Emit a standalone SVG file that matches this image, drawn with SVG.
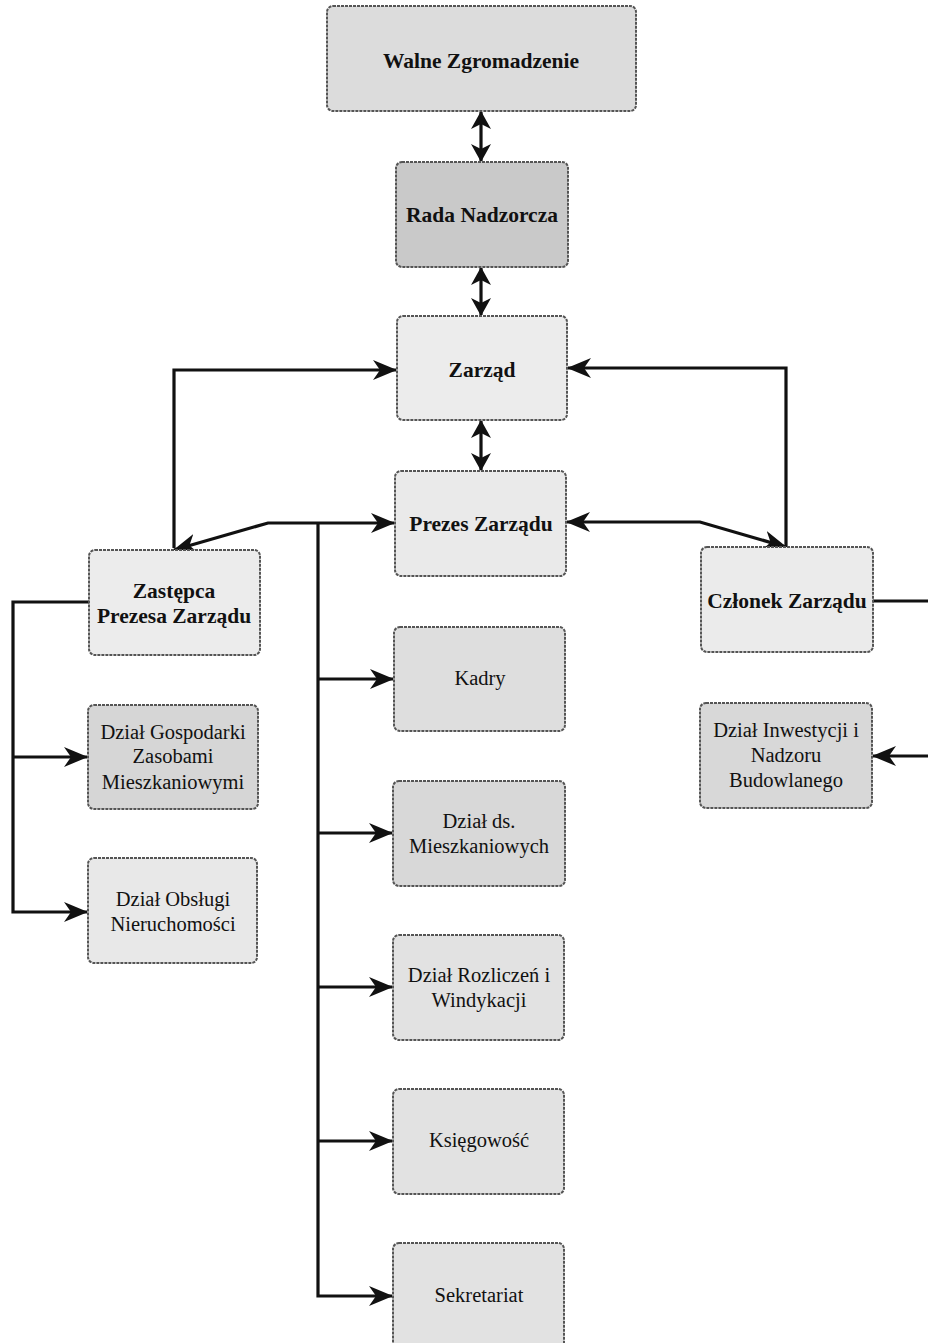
<svg xmlns="http://www.w3.org/2000/svg" width="928" height="1343" viewBox="0 0 928 1343">
<style>
.n{stroke:#555;stroke-width:2;stroke-dasharray:3 1}
.b{font-family:"Liberation Serif","Times New Roman",serif;font-weight:bold;font-size:21.5px;fill:#111;text-anchor:middle}
.r{font-family:"Liberation Serif","Times New Roman",serif;font-size:20.5px;fill:#111;text-anchor:middle}
.c{fill:none;stroke:#111;stroke-width:3.2}
</style>
<defs>
<marker id="ah" viewBox="0 0 24 20" refX="23" refY="10" markerWidth="24" markerHeight="20" markerUnits="userSpaceOnUse" orient="auto-start-reverse">
<path d="M0,0 L24,10 L0,20 L7,10 Z" fill="#111"/>
</marker>
<marker id="ds" viewBox="0 0 18 20" refX="17" refY="10" markerWidth="18" markerHeight="20" markerUnits="userSpaceOnUse" orient="auto-start-reverse">
<path d="M0,0 L18,10 L0,20 L5,10 Z" fill="#111"/>
</marker>
</defs>
<rect width="928" height="1343" fill="#fff"/>
<g id="connectors">
<path class="c" d="M481,112 V161" marker-start="url(#ds)" marker-end="url(#ds)"/>
<path class="c" d="M481,268 V315" marker-start="url(#ds)" marker-end="url(#ds)"/>
<path class="c" d="M481,421 V470" marker-start="url(#ds)" marker-end="url(#ds)"/>
<path class="c" d="M174,548 V370 H396" marker-end="url(#ah)"/>
<path class="c" d="M174,550 L268,523 H394" marker-start="url(#ah)" marker-end="url(#ah)"/>
<path class="c" d="M318,523 V1296 H392" marker-end="url(#ah)"/>
<path class="c" d="M318,679 H393" marker-end="url(#ah)"/>
<path class="c" d="M318,833 H392" marker-end="url(#ah)"/>
<path class="c" d="M318,987 H392" marker-end="url(#ah)"/>
<path class="c" d="M318,1141 H392" marker-end="url(#ah)"/>
<path class="c" d="M786,547 V368 H568" marker-end="url(#ah)"/>
<path class="c" d="M567,522 H700 L786,547" marker-start="url(#ah)" marker-end="url(#ah)"/>
<path class="c" d="M873,601 H935 V756 H873" marker-end="url(#ah)"/>
<path class="c" d="M89,602 H13 V912 H87" marker-end="url(#ah)"/>
<path class="c" d="M13,757 H87" marker-end="url(#ah)"/>
</g>
<g id="walne"><rect class="n" x="327" y="6" width="309" height="105" rx="6" fill="#dcdcdc"/><text class="b" x="481" y="68">Walne Zgromadzenie</text></g>
<g id="rada"><rect class="n" x="396" y="162" width="172" height="105" rx="6" fill="#c9c9c9"/><text class="b" x="482" y="222">Rada Nadzorcza</text></g>
<g id="zarzad"><rect class="n" x="397" y="316" width="170" height="104" rx="6" fill="#ececec"/><text class="b" x="482" y="377">Zarząd</text></g>
<g id="prezes"><rect class="n" x="395" y="471" width="171" height="105" rx="6" fill="#eaeaea"/><text class="b" x="481" y="531">Prezes Zarządu</text></g>
<g id="zastepca"><rect class="n" x="89" y="550" width="171" height="105" rx="6" fill="#ececec"/><text class="b" x="174" y="598">Zastępca</text><text class="b" x="174" y="623">Prezesa Zarządu</text></g>
<g id="czlonek"><rect class="n" x="701" y="547" width="172" height="105" rx="6" fill="#ebebeb"/><text class="b" x="787" y="608">Członek Zarządu</text></g>
<g id="gospodarki"><rect class="n" x="88" y="705" width="170" height="104" rx="6" fill="#d6d6d6"/><text class="r" x="173" y="739">Dział Gospodarki</text><text class="r" x="173" y="763">Zasobami</text><text class="r" x="173" y="789">Mieszkaniowymi</text></g>
<g id="obslugi"><rect class="n" x="88" y="858" width="169" height="105" rx="6" fill="#e8e8e8"/><text class="r" x="173" y="906">Dział Obsługi</text><text class="r" x="173" y="931">Nieruchomości</text></g>
<g id="inwestycji"><rect class="n" x="700" y="703" width="172" height="105" rx="6" fill="#d8d8d8"/><text class="r" x="786" y="737">Dział Inwestycji i</text><text class="r" x="786" y="762">Nadzoru</text><text class="r" x="786" y="787">Budowlanego</text></g>
<g id="kadry"><rect class="n" x="394" y="627" width="171" height="104" rx="6" fill="#dedede"/><text class="r" x="480" y="685">Kadry</text></g>
<g id="mieszkaniowych"><rect class="n" x="393" y="781" width="172" height="105" rx="6" fill="#d8d8d8"/><text class="r" x="479" y="828">Dział ds.</text><text class="r" x="479" y="853">Mieszkaniowych</text></g>
<g id="rozliczen"><rect class="n" x="393" y="935" width="171" height="105" rx="6" fill="#e2e2e2"/><text class="r" x="479" y="982">Dział Rozliczeń i</text><text class="r" x="479" y="1007">Windykacji</text></g>
<g id="ksiegowosc"><rect class="n" x="393" y="1089" width="171" height="105" rx="6" fill="#e2e2e2"/><text class="r" x="479" y="1147">Księgowość</text></g>
<g id="sekretariat"><rect class="n" x="393" y="1243" width="171" height="110" rx="6" fill="#e2e2e2"/><text class="r" x="479" y="1302">Sekretariat</text></g>
</svg>
